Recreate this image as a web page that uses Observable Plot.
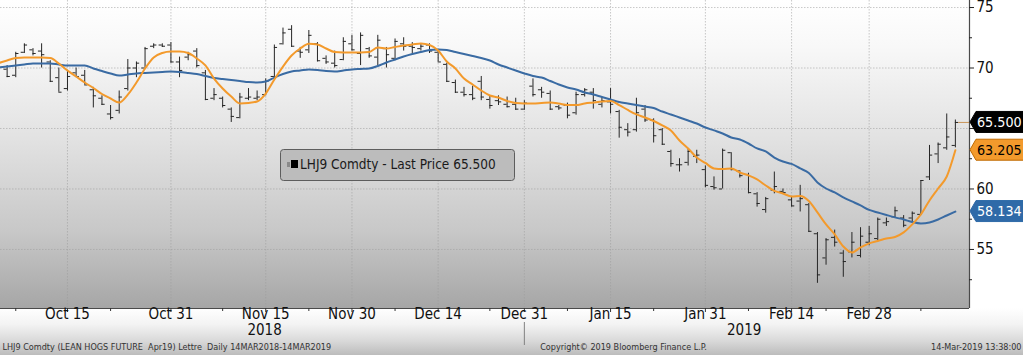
<!DOCTYPE html>
<html><head><meta charset="utf-8">
<script src="https://cdn.jsdelivr.net/npm/d3@7"></script>
<script src="https://cdn.jsdelivr.net/npm/@observablehq/plot@0.6"></script>
<style>
html,body{margin:0;padding:0;background:#fff;}
#chart svg{display:block;}
</style></head><body><div id="chart"></div>
<script>
// ---------- DATA ----------
const dates = [
"2018-10-03","2018-10-04","2018-10-05","2018-10-08","2018-10-09","2018-10-10","2018-10-11","2018-10-12",
"2018-10-15","2018-10-16","2018-10-17","2018-10-18","2018-10-19","2018-10-22","2018-10-23","2018-10-24","2018-10-25","2018-10-26","2018-10-29","2018-10-30","2018-10-31",
"2018-11-01","2018-11-02","2018-11-05","2018-11-06","2018-11-07","2018-11-08","2018-11-09","2018-11-12","2018-11-13","2018-11-14","2018-11-15","2018-11-16","2018-11-19","2018-11-20","2018-11-21","2018-11-23","2018-11-26","2018-11-27","2018-11-28","2018-11-29","2018-11-30",
"2018-12-03","2018-12-04","2018-12-05","2018-12-06","2018-12-07","2018-12-10","2018-12-11","2018-12-12","2018-12-13","2018-12-14","2018-12-17","2018-12-18","2018-12-19","2018-12-20","2018-12-21","2018-12-24","2018-12-26","2018-12-27","2018-12-28","2018-12-31",
"2019-01-02","2019-01-03","2019-01-04","2019-01-07","2019-01-08","2019-01-09","2019-01-10","2019-01-11","2019-01-14","2019-01-15","2019-01-16","2019-01-17","2019-01-18","2019-01-22","2019-01-23","2019-01-24","2019-01-25","2019-01-28","2019-01-29","2019-01-30","2019-01-31",
"2019-02-01","2019-02-04","2019-02-05","2019-02-06","2019-02-07","2019-02-08","2019-02-11","2019-02-12","2019-02-13","2019-02-14","2019-02-15","2019-02-19","2019-02-20","2019-02-21","2019-02-22","2019-02-25","2019-02-26","2019-02-27","2019-02-28",
"2019-03-01","2019-03-04","2019-03-05","2019-03-06","2019-03-07","2019-03-08","2019-03-11","2019-03-12","2019-03-13","2019-03-14"];

const open = [
70.2,69.9,69.4,71.3,71.5,71.4,70.5,69.2, 68.3,69.6,69.4,68.2,67.5,66.2,66.5,68.3,70.0,70.0,71.8,71.9,71.9,
70.5,70.9,71.4,69.6,67.5,67.5,66.6,65.9,67.5,67.5,67.8,69.3,72.0,73.2,71.4,71.5,72.0,70.8,70.4,70.7,72.0,
71.2,71.6,70.9,71.6,70.8,72.0,71.8,71.6,71.9,71.3,70.3,68.8,68.0,67.8,68.9,67.4,67.3,67.0,67.0,66.6,
68.5,68.2,67.9,66.8,66.9,66.3,67.8,68.0,67.0,67.2,66.4,64.9,64.9,66.6,65.7,64.9,63.1,62.0,62.2,62.7,61.6,
60.2,60.0,63.0,61.5,61.2,59.6,58.3,59.9,59.8,59.1,59.0,58.7,56.3,54.3,56.0,54.7,54.8,54.5,55.6,
55.9,57.2,57.7,57.6,57.6,57.9,61.0,62.9,63.4,63.6];

const high = [
70.8,70.2,71.3,72.0,71.6,72.0,70.6,70.0, 69.8,70.0,69.8,68.4,67.7,66.9,68.1,70.7,70.5,71.7,72.0,72.0,72.1,
70.9,71.3,71.6,69.8,68.3,67.6,66.7,67.9,68.3,68.1,69.1,71.9,73.3,73.5,71.7,73.1,72.1,71.0,71.4,72.5,72.7,
72.9,71.7,72.7,71.7,72.4,72.5,72.1,72.0,72.0,71.5,70.4,69.0,68.4,68.5,69.3,67.7,67.7,67.6,67.5,67.3,
69.1,68.4,68.1,66.9,67.1,68.0,68.3,68.3,67.6,68.3,66.5,65.4,67.5,66.9,65.8,65.0,63.2,62.5,63.3,63.2,61.9,
61.0,63.3,63.0,61.5,61.3,59.7,59.3,61.4,60.0,59.3,60.3,58.8,56.4,55.9,56.6,54.9,56.4,56.8,56.9,
57.6,57.6,58.5,57.8,58.1,60.7,63.6,63.8,66.2,65.7];

const low = [
69.9,69.2,69.2,71.2,71.0,70.0,68.8,68.0, 68.1,69.2,68.6,66.7,66.9,65.7,66.2,68.1,69.2,70.0,71.6,71.7,70.4,
69.2,70.6,70.0,67.3,67.3,66.7,65.5,65.8,67.3,67.3,67.7,69.2,71.9,71.7,70.8,71.2,70.5,70.3,70.0,70.6,71.4,
70.2,70.8,70.2,70.0,70.6,71.4,71.2,71.4,71.2,70.5,68.8,67.9,67.6,67.3,67.3,66.6,66.9,66.7,66.5,66.5,
67.6,67.5,66.5,66.5,65.8,66.1,67.6,66.6,66.7,66.2,64.2,64.3,64.7,65.5,63.8,63.6,61.8,61.4,61.9,62.1,60.1,
59.9,60.0,61.5,60.9,59.6,58.5,58.0,59.6,59.6,58.5,58.1,56.4,52.2,53.7,55.2,52.7,54.3,54.3,55.3,
55.7,56.9,57.6,56.8,57.2,57.8,60.7,62.1,63.2,63.4];

const close = [
70.45,69.3,71.2,71.9,71.2,71.1,68.9,68.0, 69.3,69.3,68.6,67.7,67.0,65.9,67.6,70.0,70.4,71.6,71.9,71.8,70.5,
69.8,71.1,70.2,67.4,67.8,66.9,66.0,67.6,67.6,67.6,68.9,71.7,72.9,71.8,71.3,72.7,70.6,70.5,70.2,72.2,71.5,
72.7,71.0,72.3,71.1,72.2,71.8,71.7,71.8,71.4,70.5,68.9,68.0,67.8,67.5,67.6,66.9,67.2,66.8,66.6,67.1,
67.8,68.0,66.6,66.7,66.1,67.8,68.2,67.3,67.3,67.0,65.1,64.7,66.3,65.7,64.4,63.7,62.1,62.0,63.1,62.8,60.3,
60.1,63.2,61.6,61.1,59.7,58.8,59.2,60.2,59.7,58.6,59.2,56.5,52.9,55.8,55.6,54.0,55.6,56.1,56.3,
57.5,57.3,58.2,57.0,58.0,60.7,62.8,63.7,64.3,65.5];

// short moving average (orange)
const maShort = [
70.41,70.62,70.83,70.87,70.87,70.87,70.83,70.37, 69.79,69.30,68.80,68.35,67.85,67.48,67.15,67.80,68.80,69.96,70.87,71.24,71.36,
71.36,71.24,70.79,70.21,69.13,68.31,67.64,67.07,67.11,67.23,67.89,69.05,70.12,71.03,71.61,72.00,71.94,71.61,71.32,71.28,71.28,
71.28,71.32,71.69,71.61,71.74,71.86,71.94,72.03,71.90,71.45,70.54,69.96,69.13,68.64,68.14,67.73,67.56,67.27,67.11,67.07,
67.07,67.11,67.15,67.07,66.94,66.94,67.07,67.15,67.23,67.27,66.94,66.53,66.16,65.91,65.62,65.25,64.84,64.01,63.35,62.60,62.15,
61.70,61.65,61.70,61.36,61.12,60.79,60.29,59.84,59.63,59.38,59.42,59.01,58.06,57.07,56.24,55.25,54.75,55.17,55.50,
55.70,55.91,56.03,56.41,57.07,57.89,59.05,60.04,61.03,63.205];

// long moving average (blue)
const maLong = [
70.04,70.12,70.21,70.29,70.37,70.37,70.37,70.29, 70.21,70.21,70.21,69.96,69.75,69.55,69.38,69.46,69.55,69.59,69.63,69.67,69.71,
69.67,69.59,69.50,69.34,69.17,69.09,69.01,68.93,68.84,68.80,68.88,69.21,69.50,69.71,69.79,69.88,69.84,69.75,69.71,69.79,69.88,
69.92,69.96,70.17,70.46,70.70,70.95,71.16,71.32,71.49,71.53,71.49,71.32,71.16,70.99,70.83,70.62,70.29,70.04,69.79,69.55,
69.34,69.21,68.93,68.64,68.39,68.22,67.98,67.81,67.60,67.40,67.19,67.07,66.94,66.82,66.69,66.40,66.16,65.91,65.66,65.41,65.08,
64.84,64.59,64.26,64.09,63.76,63.35,63.10,62.60,62.27,62.07,61.70,61.32,60.54,60.04,59.71,59.30,58.97,58.64,58.27,
58.06,57.85,57.65,57.48,57.27,57.15,57.23,57.48,57.81,58.134];

const xTickDates  = ["2018-10-15","2018-10-31","2018-11-15","2018-11-30","2018-12-14","2018-12-31","2019-01-15","2019-01-31","2019-02-14","2019-02-28"];
const xTickLabels = ["Oct 15","Oct 31","Nov 15","Nov 30","Dec 14","Dec 31","Jan 15","Jan 31","Feb 14","Feb 28"];
const xMinorDates = ["2018-10-05","2018-10-22","2018-11-08","2018-11-23","2018-12-07","2018-12-24","2019-01-08","2019-01-23","2019-02-07","2019-02-21","2019-03-08"];
const yearLabels  = ["2018","2019"];
const yMajorTicks = [55,60,65,70,75];
const yMinorTicks = [52.5,57.5,62.5,67.5,72.5];
const legendLabel = "LHJ9 Comdty - Last Price";
const footerLeft  = "LHJ9 Comdty (LEAN HOGS FUTURE  Apr19) Lettre  Daily 14MAR2018-14MAR2019";
const footerMid   = "Copyright\u00A9 2019 Bloomberg Finance L.P.";
const footerRight = "14-Mar-2019 13:38:00";

// ---------- LAYOUT ----------
const FONT = '"DejaVu Sans Condensed","DejaVu Sans",sans-serif';
const W = 1023, H = 355, MT = 0, MR = 54, MB = 47, ML = 0;
const xDomain = [0.23, 112.64];
const yDomain = [50.12, 75.58];
const xMax = xDomain[1], yMin = yDomain[0];
const ixPerPx = (xDomain[1] - xDomain[0]) / (W - ML - MR);
const pPerPx  = (yDomain[1] - yDomain[0]) / (H - MT - MB);
const ORANGE = "#f39a2c", BLUE = "#3a6ba3", BAR = "#262626";

const idx = new Map(dates.map((d, i) => [d, i]));
const bars = dates.map((d, i) => ({i, date: d, open: open[i], high: high[i], low: low[i], close: close[i], ms: maShort[i], ml: maLong[i]}));
const last = bars[bars.length - 1];
const tickLen = 3.2 * ixPerPx;
const tagValues = [last.close, last.ms, last.ml];
// axis labels hidden behind a price tag are not drawn (as in the reference)
const yLabelTicks = yMajorTicks.filter(v => tagValues.every(t => Math.abs(t - v) / pPerPx > 12));

const years = yearLabels.map(y => {
  const ids = dates.map((d, i) => d.startsWith(y) ? i : -1).filter(i => i >= 0);
  const a = Math.max(xDomain[0], ids[0] - 0.5), b = Math.min(xDomain[1], ids[ids.length - 1] + 0.5);
  return {label: y, x: (a + b) / 2};
});
const yearBoundary = idx.get("2018-12-31");

function backdrop(index, scales, values, dims) {
  const g = d3.create("svg:g");
  const defs = g.append("defs");
  const lg = defs.append("linearGradient").attr("id", "plotBg").attr("x1", 0).attr("y1", 0).attr("x2", 0).attr("y2", 1);
  [[0, "#ffffff"], [0.15, "#f8f8f8"], [0.45, "#e2e2e2"], [0.75, "#c8c8c8"], [1, "#a6a6a6"]]
    .forEach(([o, c]) => lg.append("stop").attr("offset", o).attr("stop-color", c));
  const lb = defs.append("linearGradient").attr("id", "bandBg").attr("x1", 0).attr("y1", 0).attr("x2", 0).attr("y2", 1);
  [[0, "#ffffff"], [0.35, "#f3f3f3"], [0.7, "#d9d9d9"], [1, "#bcbcbc"]]
    .forEach(([o, c]) => lb.append("stop").attr("offset", o).attr("stop-color", c));
  const top = dims.height - dims.marginBottom;
  g.append("rect").attr("x", 0).attr("y", top).attr("width", dims.width).attr("height", dims.marginBottom).attr("fill", "url(#bandBg)");
  g.append("rect").attr("x", dims.marginLeft).attr("y", dims.marginTop)
    .attr("width", dims.width - dims.marginLeft - dims.marginRight)
    .attr("height", top - dims.marginTop).attr("fill", "url(#plotBg)");
  return g.node();
}

function priceTags(index, scales, values, dims) {
  const g = d3.create("svg:g").attr("font-family", FONT).attr("text-anchor", "start");
  const x0 = dims.width - dims.marginRight;
  const styles = [
    {fill: "#000000", stroke: "#000000", text: "#ffffff"},
    {fill: ORANGE,    stroke: "#c06a00", text: "#000000"},
    {fill: "#2f6aa8", stroke: "#2f6aa8", text: "#ffffff"}
  ];
  tagValues.forEach((v, k) => {
    const t = styles[k];
    const y = scales.y(v), h = 10.5;
    g.append("path")
      .attr("d", `M${x0 + 1},${y} L${x0 + 7},${y - h} L${dims.width + 2},${y - h} L${dims.width + 2},${y + h} L${x0 + 7},${y + h} Z`)
      .attr("fill", t.fill).attr("stroke", t.stroke);
    g.append("text").attr("x", x0 + 8).attr("y", y).attr("dy", "0.36em").attr("text-anchor", "start")
      .attr("font-size", 14.2).attr("fill", t.text).text(v.toFixed(3));
  });
  return g.node();
}

function legend(index, scales, values, dims) {
  const g = d3.create("svg:g").attr("font-family", FONT).attr("text-anchor", "start");
  const lx = 280, ly = 149, lw = 234, lh = 31;
  g.append("rect").attr("x", lx + 0.5).attr("y", ly + 0.5).attr("width", lw).attr("height", lh).attr("rx", 3)
    .attr("fill", "#bcbcbc").attr("stroke", "#5d5d5d");
  g.append("rect").attr("x", lx + 7).attr("y", ly + 13).attr("width", 3).attr("height", 5).attr("fill", "#8a8a8a");
  g.append("rect").attr("x", lx + 11).attr("y", ly + 11).attr("width", 7).attr("height", 8).attr("fill", "#000");
  g.append("text").attr("x", lx + 20).attr("y", ly + lh / 2).attr("dy", "0.36em").attr("text-anchor", "start")
    .attr("font-size", 13.5).attr("fill", "#1a1a1a").text(`${legendLabel} ${last.close.toFixed(3)}`);
  return g.node();
}

const chart = Plot.plot({
  width: W, height: H,
  marginTop: MT, marginRight: MR, marginBottom: MB, marginLeft: ML,
  x: {domain: xDomain, axis: null},
  y: {domain: yDomain, axis: null},
  style: {fontFamily: FONT, background: "#ffffff", overflow: "visible"},
  marks: [
    backdrop,
    // grid
    Plot.ruleY(yMajorTicks, {stroke: "#9c9c9c", strokeOpacity: 0.55, strokeDasharray: "1.5,1.5"}),
    Plot.ruleX(xTickDates, {x: d => idx.get(d), stroke: "#9c9c9c", strokeOpacity: 0.55, strokeDasharray: "1.5,1.5"}),
    // axes lines
    Plot.ruleX([xMax], {stroke: "#4a4a4a", strokeWidth: 1.2}),
    Plot.ruleY([yMin], {stroke: "#4a4a4a", strokeWidth: 1.2}),
    // y ticks + labels
    Plot.ruleY(yMajorTicks, {x1: xMax, x2: xMax + 5 * ixPerPx, stroke: "#222"}),
    Plot.ruleY(yMinorTicks, {x1: xMax, x2: xMax + 3 * ixPerPx, stroke: "#222"}),
    Plot.text(yLabelTicks, {x: xMax, y: d => d, text: d => String(d), dx: 7, textAnchor: "start", fontSize: 15, fill: "#111"}),
    // x ticks + labels
    Plot.ruleX(xTickDates, {x: d => idx.get(d), y1: yMin, y2: yMin - 4 * pPerPx, stroke: "#333"}),
    Plot.ruleX(xMinorDates, {x: d => idx.get(d), y1: yMin, y2: yMin - 3 * pPerPx, stroke: "#333"}),
    Plot.text(xTickDates, {x: d => idx.get(d), text: (d, i) => xTickLabels[i], frameAnchor: "bottom", dy: 10, fontSize: 15, fill: "#111"}),
    Plot.text(years, {x: "x", text: "label", frameAnchor: "bottom", dy: 26, fontSize: 15, fill: "#111"}),
    Plot.ruleX([yearBoundary], {y1: yMin - 14 * pPerPx, y2: yMin - 37 * pPerPx, stroke: "#808080"}),
    // footer
    Plot.text([footerLeft], {frameAnchor: "bottom-left", dx: 2, dy: 41, textAnchor: "start", fontSize: 9, fill: "#333"}),
    Plot.text([footerMid], {frameAnchor: "bottom-left", dx: 623, dy: 41, textAnchor: "middle", fontSize: 9, fill: "#333"}),
    Plot.text([footerRight], {frameAnchor: "bottom-right", dx: 52, dy: 41, textAnchor: "end", fontSize: 9, fill: "#333"}),
    // OHLC bars
    Plot.ruleX(bars, {x: "i", y1: "low", y2: "high", stroke: BAR, strokeWidth: 1}),
    Plot.ruleY(bars, {y: "open", x1: d => d.i - tickLen, x2: "i", stroke: BAR}),
    Plot.ruleY(bars, {y: "close", x1: "i", x2: d => d.i + tickLen, stroke: BAR}),
    // last price line to axis
    Plot.ruleY([last], {y: "close", x1: d => d.i + tickLen, x2: xMax, stroke: "#c9955a", strokeWidth: 1}),
    // moving averages
    Plot.line(bars, {x: "i", y: "ml", stroke: BLUE, strokeWidth: 2, curve: "monotone-x"}),
    Plot.line(bars, {x: "i", y: "ms", stroke: ORANGE, strokeWidth: 2, curve: "monotone-x"}),
    legend,
    priceTags
  ]
});
document.getElementById("chart").append(chart);
</script></body></html>
